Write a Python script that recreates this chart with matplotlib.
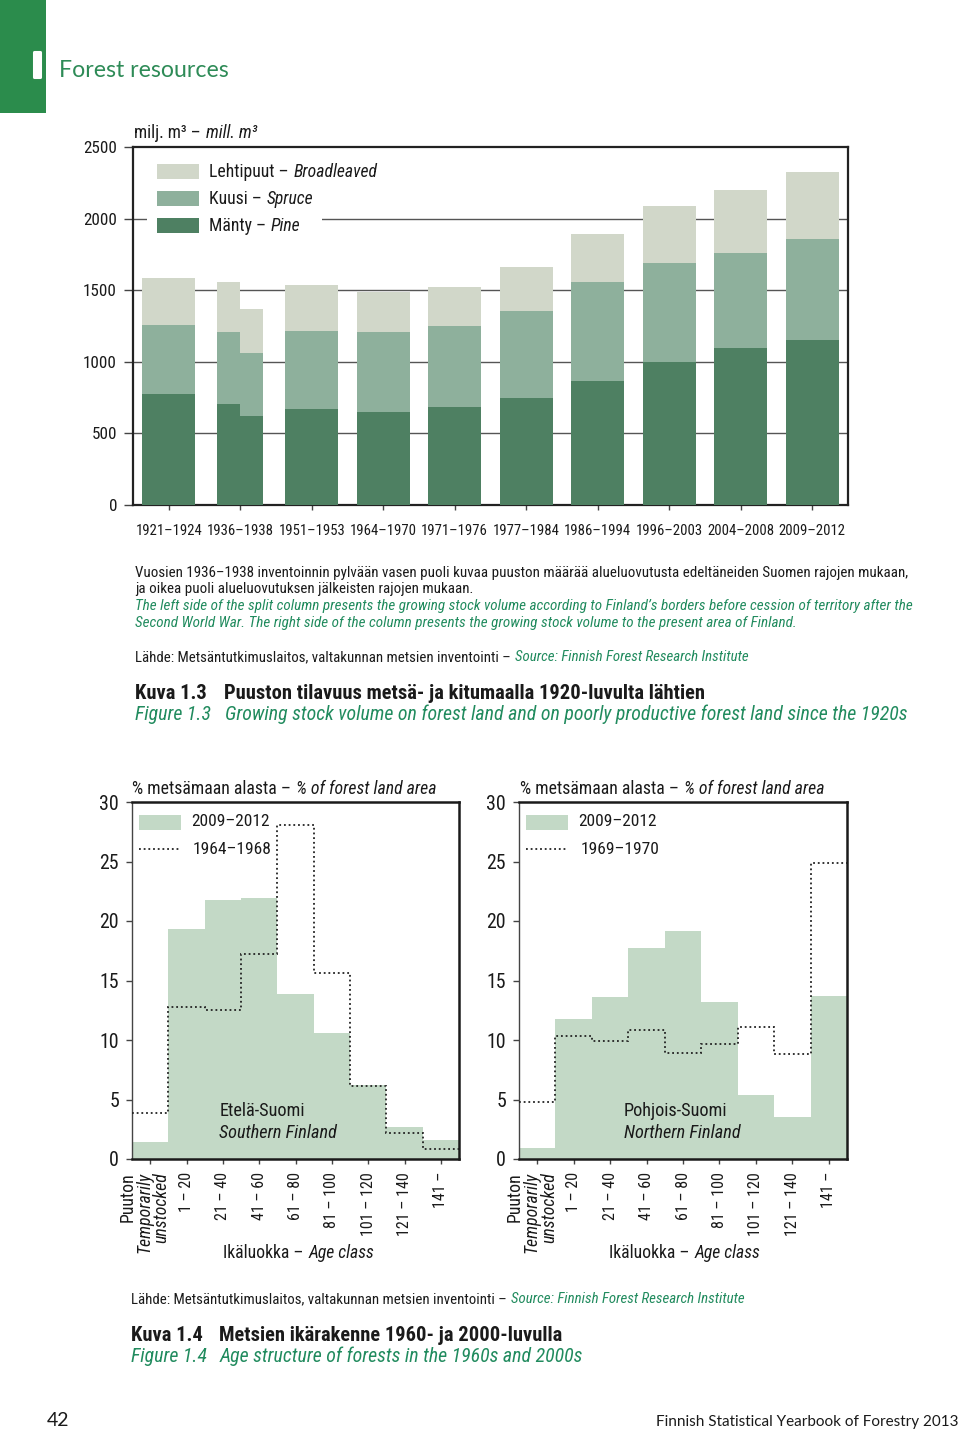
import numpy as np
import matplotlib
matplotlib.use("Agg")
import matplotlib.pyplot as plt
from matplotlib import font_manager
from matplotlib.font_manager import FontProperties
from matplotlib.textpath import TextPath
from matplotlib.patches import Rectangle
import matplotlib.patheffects as pe
import matplotlib.transforms as mtrans

# ---- fonts: prefer a condensed sans, otherwise Liberation Sans ----
names = {f.name for f in font_manager.fontManager.ttflist}
BODY, STRETCH = "Liberation Sans", "normal"
for c in ("Liberation Sans Narrow", "Arial Narrow", "Roboto Condensed", "Open Sans Condensed"):
    if c in names:
        BODY = c
        break
else:
    for f in font_manager.fontManager.ttflist:
        if f.stretch in ("condensed", "semi-condensed") and f.name in ("Noto Sans", "Open Sans", "Roboto"):
            BODY, STRETCH = f.name, f.stretch
            break
GILL = "Lato"
plt.rcParams["font.family"] = [BODY, "DejaVu Sans"]
plt.rcParams["font.stretch"] = STRETCH


def fit(s, target_px, style="normal", weight="normal"):
    """font size (pt) that makes s about target_px wide at 100 dpi"""
    fp = FontProperties(family=BODY, style=style, weight=weight, stretch=STRETCH, size=10)
    w = TextPath((0, 0), s, prop=fp).get_extents().width * 100 / 72
    return 10 * target_px / w


BROAD_C = "#D1D7C9"; SPRUCE_C = "#8EB09C"; PINE_C = "#4E8062"
FILL_C = "#C3D9C6"; GREEN = "#218B5E"; HDR = "#2B8C4C"; INK = "#1A1A1A"

# ---- Figure 1.3 data (mill. m3) ----
periods = ["1921–1924", "1936–1938", "1951–1953", "1964–1970", "1971–1976",
           "1977–1984", "1986–1994", "1996–2003", "2004–2008", "2009–2012"]
pine = [775, 705, 670, 651, 686, 745, 865, 998, 1096, 1154]
spruce = [481, 503, 547, 557, 563, 609, 689, 693, 667, 703]
broad = [330, 348, 318, 281, 270, 305, 335, 396, 438, 470]
# 1936–1938 split column: right half = present area of Finland
split_idx = 1
pine_after, spruce_after, broad_after = 621, 442, 305

# ---- Figure 1.4 data (% of forest land area) ----
age_classes = ["1 – 20", "21 – 40", "41 – 60", "61 – 80", "81 – 100",
               "101 – 120", "121 – 140", "141 –"]
south_2009 = [1.4, 19.3, 21.8, 21.9, 13.9, 10.6, 6.2, 2.7, 1.6]
south_1964 = [3.9, 12.8, 12.5, 17.2, 28.1, 15.6, 6.1, 2.2, 0.85]
north_2009 = [0.9, 11.8, 13.6, 17.7, 19.2, 13.2, 5.4, 3.5, 13.7]
north_1969 = [4.8, 10.3, 9.9, 10.8, 8.9, 9.7, 11.1, 8.8, 24.9]

W, H = 960, 1432
fig = plt.figure(figsize=(W / 100, H / 100), dpi=100)


def rect(x0, y0, x1, y1):
    return [x0 / W, 1 - y1 / H, (x1 - x0) / W, (y1 - y0) / H]


# overlay in page pixels (drawn on top of the charts)
bg = fig.add_axes([0, 0, 1, 1], zorder=10)
bg.set_xlim(0, W); bg.set_ylim(H, 0); bg.axis("off")


def rich(x, y, parts, size):
    prev = None
    for txt, style, color in parts:
        kw = dict(fontsize=size, color=color, fontstyle=style)
        if prev is None:
            prev = bg.text(x, y, txt, va="baseline", ha="left", **kw)
        else:
            prev = bg.annotate(txt, xy=(1, 0), xycoords=prev, xytext=(0.28 * size, 0),
                               textcoords="offset points", va="bottom", ha="left", **kw)
    return prev


# ---- page header ----
bg.add_patch(Rectangle((0, 0), 46, 113, color=HDR, lw=0))
bg.text(37, 77, "I", ha="center", va="baseline", fontsize=25, color="white",
        family=GILL, fontweight="black",
        path_effects=[pe.withStroke(linewidth=2.2, foreground="white")])
bg.text(59, 77, "Forest resources", ha="left", va="baseline", fontsize=16.7,
        color="#2E8B57", family=GILL)

# ---- Figure 1.3 ----
ax = fig.add_axes(rect(133, 147, 848, 505))
xs = np.arange(len(periods), dtype=float)
wid = np.full(len(periods), 0.745)
off = np.zeros(len(periods))
wid[split_idx] = 0.322; off[split_idx] = -0.161
p = np.array(pine); s = np.array(spruce); b = np.array(broad)
ax.bar(xs + off, p, wid, color=PINE_C, zorder=3)
ax.bar(xs + off, s, wid, bottom=p, color=SPRUCE_C, zorder=3)
ax.bar(xs + off, b, wid, bottom=p + s, color=BROAD_C, zorder=3)
xr = split_idx + 0.161
ax.bar(xr, pine_after, 0.322, color=PINE_C, zorder=3)
ax.bar(xr, spruce_after, 0.322, bottom=pine_after, color=SPRUCE_C, zorder=3)
ax.bar(xr, broad_after, 0.322, bottom=pine_after + spruce_after, color=BROAD_C, zorder=3)

ax.set_xlim(-0.5, len(periods) - 0.5)
ax.set_ylim(0, 2500)
ax.set_yticks(range(0, 2501, 500))
ax.set_xticks(xs)
ax.set_xticklabels(periods, fontsize=fit("1921–1924", 65))
ax.tick_params(axis="y", direction="out", length=6.5, width=1, color="#444", pad=5,
               labelsize=fit("2500", 32), labelcolor=INK)
ax.tick_params(axis="x", direction="out", length=3.6, width=1, color="#444", pad=10, labelcolor=INK)
for v in range(500, 2500, 500):
    ax.axhline(v, color="#555", lw=1, zorder=1)
for sp in ax.spines.values():
    sp.set_color("#222"); sp.set_linewidth(1.6)

# legend (white box interrupts the 2000 gridline)
ax.add_patch(Rectangle((0.0196, 0.754), 0.245, 0.224, transform=ax.transAxes,
                       color="white", lw=0, zorder=4))
leg = [("Lehtipuut –", "Broadleaved", BROAD_C), ("Kuusi –", "Spruce", SPRUCE_C),
       ("Mänty –", "Pine", PINE_C)]
LEG_FS = fit("Lehtipuut – Broadleaved", 167)
for k, (fi, en, c) in enumerate(leg):
    yc = 171 + 27 * k
    bg.add_patch(Rectangle((157, yc - 7.5), 42, 15, color=c, lw=0))
    rich(209, yc + 6, [(fi, "normal", INK), (en, "italic", INK)], LEG_FS)

rich(134, 138, [("milj. m³ –", "normal", INK), ("mill. m³", "italic", INK)],
     fit("milj. m³ – mill. m³", 122))

# notes
n1 = ("Vuosien 1936–1938 inventoinnin pylvään vasen puoli kuvaa puuston määrää "
      "alueluovutusta edeltäneiden Suomen rajojen mukaan,")
n3 = ("The left side of the split column presents the growing stock volume according to "
      "Finland’s borders before cession of territory after the")
fs_n = fit(n1, 773)
bg.text(135, 577, n1, fontsize=fs_n, color=INK, va="baseline")
bg.text(135, 593, "ja oikea puoli alueluovutuksen jälkeisten rajojen mukaan.",
        fontsize=fs_n, color=INK, va="baseline")
bg.text(135, 610, n3, fontsize=fit(n3, 773, "italic"), color=GREEN, style="italic", va="baseline")
bg.text(135, 627, "Second World War. The right side of the column presents the growing stock "
        "volume to the present area of Finland.", fontsize=fit(n3, 773, "italic"), color=GREEN,
        style="italic", va="baseline")
src_a = "Lähde: Metsäntutkimuslaitos, valtakunnan metsien inventointi –"
src_b = "Source: Finnish Forest Research Institute"
FS_SRC = fit(src_a + " " + src_b, 617)
rich(135, 661, [(src_a, "normal", INK), (src_b, "italic", GREEN)], FS_SRC)

t13 = "Puuston tilavuus metsä- ja kitumaalla 1920-luvulta lähtien"
f13 = "Growing stock volume on forest land and on poorly productive forest land since the 1920s"
FS_KB = fit(t13, 478, weight="bold")
FS_KI = fit(f13, 683, "italic")
bg.text(135, 699, "Kuva 1.3", fontsize=FS_KB, fontweight="bold", color=INK, va="baseline")
bg.text(224, 699, t13, fontsize=FS_KB, fontweight="bold", color=INK, va="baseline")
bg.text(135, 720, "Figure 1.3", fontsize=FS_KI, style="italic", color=GREEN, va="baseline")
bg.text(225, 720, f13, fontsize=FS_KI, style="italic", color=GREEN, va="baseline")

# ---- Figure 1.4 ----
FS_AX = fit("30", 17.5)
FS_LAB = fit("101 – 120", 62)
FS_LAB0 = fit("Temporarily", 80, "italic")
FS_LEG = fit("2009–2012", 77)
FS_REG = fit("Southern Finland", 118, "italic")


def age_panel(x0, x1, v_now, v_old, old_label, fi, en, reg_x):
    a = fig.add_axes(rect(x0, 802, x1, 1159))
    n = len(v_now)
    edges = np.arange(n + 1) - 0.5
    a.stairs(v_now, edges, fill=True, color=FILL_C, lw=0, zorder=2)
    a.stairs(v_old, edges, baseline=None, color="#222", lw=1.3, ls=(0, (1, 1.6)), zorder=3)
    a.set_xlim(-0.5, n - 0.5); a.set_ylim(0, 30)
    a.set_yticks(range(0, 31, 5))
    a.set_xticks(range(n)); a.set_xticklabels([])
    a.tick_params(axis="y", direction="out", length=4.3, width=1, color="#444", pad=5,
                  labelsize=FS_AX, labelcolor=INK)
    a.tick_params(axis="x", direction="out", length=3.6, width=1, color="#444")
    for k in ("top", "right", "bottom"):
        a.spines[k].set_color("#1a1a1a"); a.spines[k].set_linewidth(1.8)
    a.spines["left"].set_color("#444"); a.spines["left"].set_linewidth(1)
    tr = mtrans.blended_transform_factory(a.transData, a.transAxes)
    ly = -13 / 357
    a.text(-0.62, ly, "Puuton", rotation=90, ha="center", va="top", fontsize=FS_LAB0,
           transform=tr, color=INK)
    a.text(0.08, ly, "Temporarily\nunstocked", rotation=90, ha="center", va="top", fontsize=FS_LAB0,
           style="italic", multialignment="right", transform=tr, linespacing=0.95, color=INK)
    for i, lab in enumerate(age_classes, start=1):
        a.text(i, ly, lab, rotation=90, ha="center", va="top", fontsize=FS_LAB,
               transform=tr, color=INK)
    # legend
    a.add_patch(Rectangle((7 / 327, 0.922), 42 / 327, 0.042, transform=a.transAxes,
                          color=FILL_C, lw=0, zorder=4))
    a.plot([7 / 327, 49 / 327], [0.868, 0.868], transform=a.transAxes, color="#222",
           lw=1.3, ls=(0, (1, 1.6)), zorder=4)
    a.text(59 / 327, 0.944, "2009–2012", transform=a.transAxes, va="center",
           fontsize=FS_LEG, color=INK)
    a.text(61 / 327, 0.868, old_label, transform=a.transAxes, va="center",
           fontsize=FS_LEG, color=INK)
    a.text(reg_x, 4.05, fi, va="center", fontsize=FS_REG, zorder=5, color=INK)
    a.text(reg_x, 2.2, en, va="center", fontsize=FS_REG, style="italic", zorder=5, color=INK)
    return a


axS = age_panel(132, 459, south_2009, south_1964, "1964–1968", "Etelä-Suomi", "Southern Finland", 1.9)
axN = age_panel(519, 847, north_2009, north_1969, "1969–1970", "Pohjois-Suomi", "Northern Finland", 2.38)

FS_T = fit("% metsämaan alasta – % of forest land area", 305)
FS_X = fit("Ikäluokka – Age class", 150)
for x0, xl in ((132, 223), (520, 609)):
    rich(x0, 794, [("% metsämaan alasta –", "normal", INK),
                   ("% of forest land area", "italic", INK)], FS_T)
    rich(xl, 1258, [("Ikäluokka –", "normal", INK), ("Age class", "italic", INK)], FS_X)

rich(131, 1303, [(src_a, "normal", INK), (src_b, "italic", GREEN)], fit(src_a + " " + src_b, 618))
t14 = "Metsien ikärakenne 1960- ja 2000-luvulla"
f14 = "Age structure of forests in the 1960s and 2000s"
bg.text(131, 1341, "Kuva 1.4", fontsize=FS_KB, fontweight="bold", color=INK, va="baseline")
bg.text(219, 1341, t14, fontsize=FS_KB, fontweight="bold", color=INK, va="baseline")
bg.text(131, 1362, "Figure 1.4", fontsize=FS_KI, style="italic", color=GREEN, va="baseline")
bg.text(220, 1362, f14, fontsize=FS_KI, style="italic", color=GREEN, va="baseline")

# ---- footer ----
bg.text(47, 1426, "42", fontsize=14, family=GILL, color=INK, va="baseline")
bg.text(958, 1426, "Finnish Statistical Yearbook of Forestry 2013", fontsize=11, family=GILL,
        color=INK, va="baseline", ha="right")

fig.savefig("out.png", dpi=100)
